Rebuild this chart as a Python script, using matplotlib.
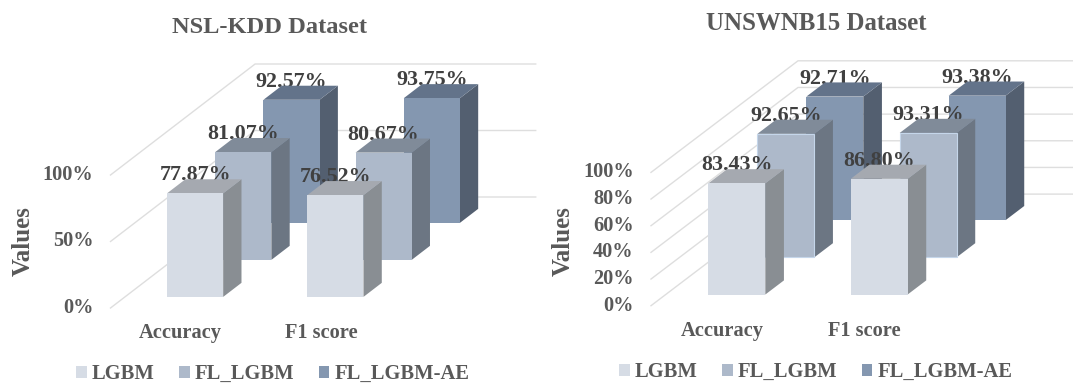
import matplotlib.pyplot as plt
from matplotlib.patches import Polygon, Patch

plt.rcParams['font.family'] = ['Liberation Serif', 'DejaVu Serif']
plt.rcParams['font.weight'] = 'bold'

W, H = 1073, 384

categories = ['Accuracy', 'F1 score']
series = ['LGBM', 'FL_LGBM', 'FL_LGBM-AE']

nsl_lgbm = [77.87, 76.52]
nsl_fl = [81.07, 80.67]
nsl_fl_ae = [92.57, 93.75]

unsw_lgbm = [83.43, 86.80]
unsw_fl = [92.65, 93.31]
unsw_fl_ae = [92.71, 93.38]

nsl_ticks = [0, 50, 100]
unsw_ticks = [0, 20, 40, 60, 80, 100]

# front, side, top
colors = [('#D6DCE5', '#898E93', '#A5A9B0'),
          ('#ADB9CA', '#6C7683', '#808B99'),
          ('#8497B0', '#535F70', '#63738A')]
GRID = '#DEDEDE'
TEXT = '#595959'
LABEL = '#404040'


def panel(x0, x1, ox, oy, px_cat, px_val, px_dx, px_dy):
    """Axes in category/percent units, with a depth shift for the oblique view."""
    ax = fig.add_axes([x0 / W, 0, (x1 - x0) / W, 1])
    ax.set_xlim((x0 - ox) / px_cat, (x1 - ox) / px_cat)
    ax.set_ylim((oy - H) / px_val, oy / px_val)
    ax.axis('off')
    dx = px_dx / px_cat
    dy = px_dy / px_val

    def proj(u, d, v):
        return u + d * dx, v + d * dy
    return ax, proj


def draw_bar(ax, proj, u, d, value, cols, z, edge=None):
    w, t = 0.4, 0.38
    front = [proj(u, d, 0), proj(u + w, d, 0), proj(u + w, d, value), proj(u, d, value)]
    side = [proj(u + w, d, 0), proj(u + w, d + t, 0), proj(u + w, d + t, value), proj(u + w, d, value)]
    top = [proj(u, d, value), proj(u + w, d, value), proj(u + w, d + t, value), proj(u, d + t, value)]
    ax.add_patch(Polygon(side, fc=cols[1], ec='none', zorder=z))
    ax.add_patch(Polygon(top, fc=cols[2], ec='none', zorder=z))
    ax.add_patch(Polygon(front, fc=cols[0], ec=edge or 'none', lw=0.8, zorder=z))


def draw_panel(ax, proj, title, title_xy, title_size, vals_x, vals, ticks, legend_xy, edge_fl=None):
    # walls: side gridlines and back gridlines
    for t in ticks:
        a = proj(0, 0, t)
        b = proj(0, 3, t)
        c = proj(2, 3, t)
        ax.plot([a[0], b[0], c[0]], [a[1], b[1], c[1]], color=GRID, lw=1, zorder=1)
        ax.annotate(f'{t}%', xy=a, xytext=(-12.5, 0), textcoords='offset points',
                    ha='right', va='center', fontsize=14.6, color=TEXT)

    for s in [2, 1, 0]:
        for i in range(len(categories)):
            z = 10 + (2 - s) * 10 + i * 2
            u = i + 0.3
            d = 0.3 + s
            xy = proj(u + 0.2, d, vals[s][i])
            ax.annotate(f'{vals[s][i]:.2f}%', xy=xy, xytext=(0, 13), textcoords='offset points',
                        ha='center', va='center', fontsize=15.8, color=LABEL, zorder=z)
            edge = edge_fl if s == 1 else None
            draw_bar(ax, proj, u, d, vals[s][i], colors[s], z + 1, edge)

    for i, name in enumerate(categories):
        ax.annotate(name, xy=proj(i + 0.5, 0, 0), xytext=(0, -18), textcoords='offset points',
                    ha='center', va='center', fontsize=14.7, color=TEXT)

    fig.text(title_xy[0] / W, 1 - title_xy[1] / H, title, ha='center', va='center',
             fontsize=title_size, color=TEXT)
    fig.text(vals_x / W, 1 - 241 / H, 'Values', rotation=90, ha='center', va='center',
             fontsize=18, color=TEXT)

    handles = [Patch(fc=colors[k][0], ec='none', label=series[k]) for k in range(3)]
    fig.legend(handles=handles, loc='center', ncol=3, frameon=False,
               bbox_to_anchor=(legend_xy[0] / W, 1 - legend_xy[1] / H), fontsize=14.8,
               labelcolor=TEXT, handlelength=0.5, handleheight=0.5, handletextpad=0.25,
               columnspacing=1.2, borderpad=0, borderaxespad=0)


fig = plt.figure(figsize=(W / 100, H / 100), dpi=100)

ax1, proj1 = panel(0, 540, 110.5, 308, 140.3, 1.33, 48.2, 37)
draw_panel(ax1, proj1, 'NSL-KDD Dataset', (270, 27.5), 17.6, 23,
           [nsl_lgbm, nsl_fl, nsl_fl_ae], nsl_ticks, (273, 374))

ax2, proj2 = panel(540, 1073, 651, 305.7, 142.3, 1.333, 49, 37.2)
draw_panel(ax2, proj2, 'UNSWNB15 Dataset', (816, 24), 17.9, 563,
           [unsw_lgbm, unsw_fl, unsw_fl_ae], unsw_ticks, (816, 372), edge_fl='#C5D6EA')

fig.savefig('out.png', dpi=100)
